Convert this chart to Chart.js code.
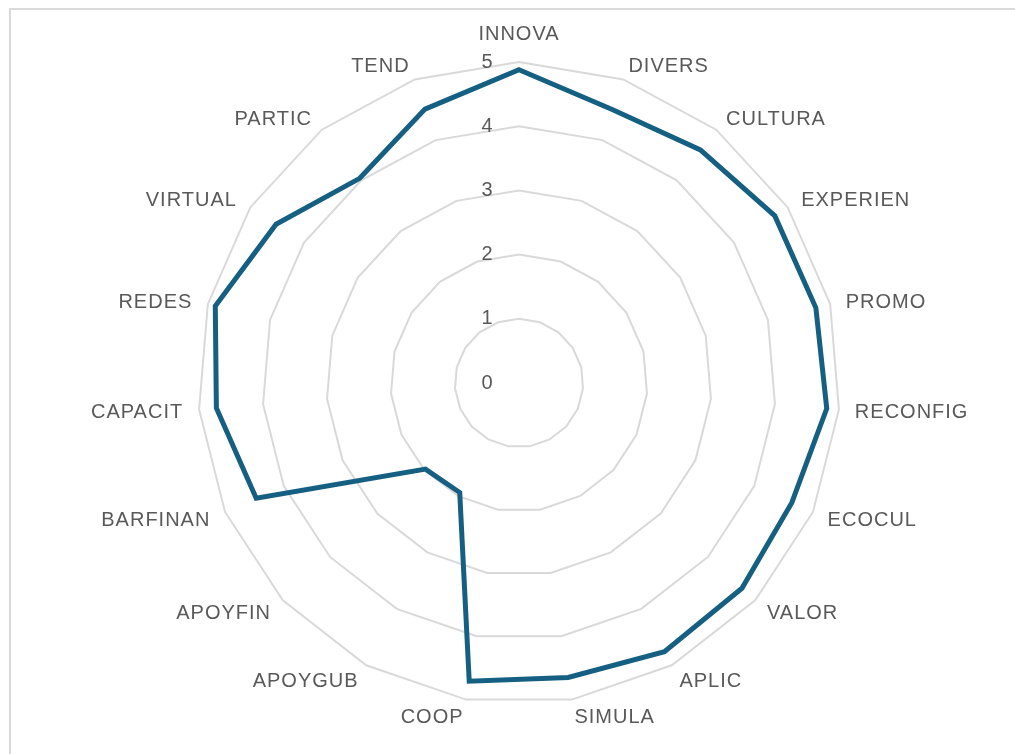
<!DOCTYPE html>
<html>
<head>
<meta charset="utf-8">
<script src="https://cdn.jsdelivr.net/npm/chart.js@4/dist/chart.umd.min.js"></script>
<style>
    html, body { margin: 0; padding: 0; background: #ffffff; overflow: hidden; }
    #frame {
        position: absolute; left: 9px; top: 8px; width: 1100px; height: 800px;
        border-top: 2px solid #d9d9d9; border-left: 2px solid #d9d9d9;
    }
    #chart1 { position: absolute; left: 0; top: 0; }
</style>
</head>
<body>
<div id="frame"></div>
<canvas id="chart1" width="1015" height="754"></canvas>
<script>
// Categories around the radar, clockwise from the top
const categories = ['INNOVA', 'DIVERS', 'CULTURA', 'EXPERIEN', 'PROMO', 'RECONFIG', 'ECOCUL',
    'VALOR', 'APLIC', 'SIMULA', 'COOP', 'APOYGUB', 'APOYFIN', 'BARFINAN', 'CAPACIT',
    'REDES', 'VIRTUAL', 'PARTIC', 'TEND'];

// Series values
const scores = [4.88, 4.50, 4.60, 4.76, 4.77, 4.81, 4.64, 4.72, 4.76, 4.65, 4.71,
    1.94, 1.98, 4.47, 4.73, 4.88, 4.52, 4.04, 4.51];

// Tick labels of the radial axis
const tickValues = [0, 1, 2, 3, 4, 5];

const labelFont = { family: '"Liberation Sans", Arial, sans-serif', size: 20 };
const textColor = '#595959';

// Excel-style text: tick numbers left of the axis, category labels centred on their spoke
const excelLabelsPlugin = {
    id: 'excelLabels',
    afterDatasetsDraw(chart) {
        const scale = chart.scales.r;
        const ctx = chart.ctx;
        ctx.save();
        ctx.font = labelFont.size + 'px ' + labelFont.family;
        ctx.fillStyle = textColor;
        ctx.textBaseline = 'middle';

        ctx.textAlign = 'center';
        tickValues.forEach(v => {
            const d = scale.getDistanceFromCenterForValue(v);
            ctx.fillText(String(v), scale.xCenter - 32, scale.yCenter - d);
        });

        ctx.letterSpacing = '1px';
        categories.forEach((label, i) => {
            const pos = scale.getPointPosition(i, scale.drawingArea + 16);
            const deg = Math.round(scale.getIndexAngle(i) * 180 / Math.PI) % 360;
            let y = pos.y + 2;
            if (deg === 0) {
                ctx.textAlign = 'center';
                y = pos.y - labelFont.size * 0.6;
            } else if (deg === 180) {
                ctx.textAlign = 'center';
                y += labelFont.size * 0.6;
            } else if (deg < 180) {
                ctx.textAlign = 'left';
            } else {
                ctx.textAlign = 'right';
            }
            ctx.fillText(label, pos.x, y);
        });
        ctx.restore();
    }
};

new Chart(document.getElementById('chart1'), {
    type: 'radar',
    data: {
        labels: categories,
        datasets: [{
            data: scores,
            borderColor: '#156082',
            borderWidth: 5,
            pointRadius: 0,
            pointHoverRadius: 0,
            fill: false,
            tension: 0
        }]
    },
    options: {
        responsive: false,
        animation: false,
        layout: { padding: { left: 23, right: 0, top: 19, bottom: 11 } },
        plugins: {
            legend: { display: false },
            tooltip: { enabled: false }
        },
        scales: {
            r: {
                min: 0,
                max: 5,
                beginAtZero: true,
                angleLines: { display: false },
                grid: { color: '#d9d9d9', lineWidth: 2, circular: false },
                ticks: { display: false, stepSize: 1 },
                pointLabels: {
                    // kept for the layout fit, text itself is drawn by the plugin
                    color: 'rgba(0,0,0,0)',
                    font: labelFont,
                    padding: 17
                }
            }
        }
    },
    plugins: [excelLabelsPlugin]
});
</script>
</body>
</html>
